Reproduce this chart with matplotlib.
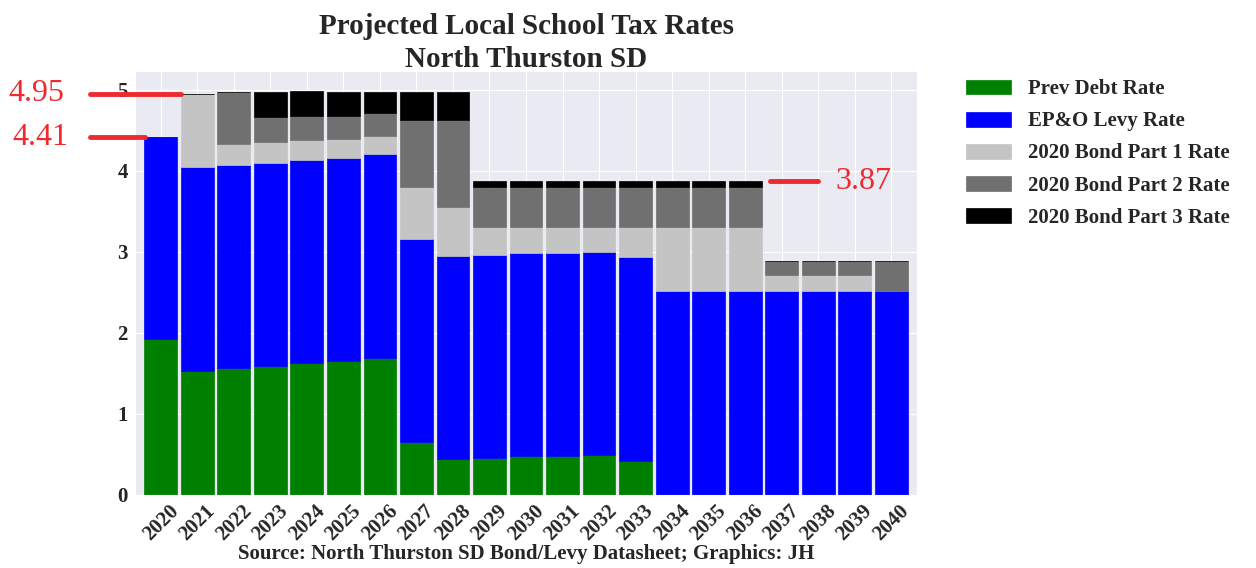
"""Projected local school tax rates, North Thurston SD (stacked bars)."""
import numpy as np
import matplotlib
matplotlib.use("Agg")
import matplotlib.pyplot as plt
import seaborn as sns

years = [str(y) for y in range(2020, 2041)]

# rate per $1000 assessed value
prev_debt = [1.92, 1.53, 1.56, 1.59, 1.62, 1.65, 1.69, 0.65, 0.44, 0.45, 0.47,
             0.48, 0.49, 0.41, 0, 0, 0, 0, 0, 0, 0]
epo_levy = [2.49, 2.51, 2.51, 2.50, 2.51, 2.50, 2.51, 2.51, 2.51, 2.51, 2.51,
            2.50, 2.50, 2.52, 2.51, 2.51, 2.51, 2.51, 2.51, 2.51, 2.51]
bond_p1 = [0, 0.91, 0.26, 0.26, 0.245, 0.24, 0.23, 0.635, 0.60, 0.34, 0.32,
           0.32, 0.31, 0.37, 0.79, 0.79, 0.79, 0.20, 0.20, 0.20, 0]
bond_p2 = [0, 0, 0.645, 0.31, 0.305, 0.29, 0.28, 0.835, 1.07, 0.50, 0.50,
           0.50, 0.50, 0.50, 0.50, 0.50, 0.50, 0.175, 0.175, 0.175, 0.375]
bond_p3 = [0, 0, 0, 0.31, 0.30, 0.29, 0.26, 0.34, 0.35, 0.07, 0.07,
           0.07, 0.07, 0.07, 0.07, 0.07, 0.07, 0, 0, 0, 0]

series = [
    ("Prev Debt Rate", prev_debt, "#008000"),
    ("EP&O Levy Rate", epo_levy, "#0000ff"),
    ("2020 Bond Part 1 Rate", bond_p1, "#c4c4c4"),
    ("2020 Bond Part 2 Rate", bond_p2, "#707070"),
    ("2020 Bond Part 3 Rate", bond_p3, "#000000"),
]

# (value shown, x start, x end, text x) for the red call-outs
callouts = [(4.95, -1.95, 0.55, -3.42), (4.41, -1.95, -0.44, -3.30),
            (3.87, 16.68, 18.0, 18.47)]

sns.set_style("darkgrid")
plt.rcParams["font.family"] = ["Liberation Serif", "DejaVu Serif"]
plt.rcParams["font.weight"] = "bold"

fig = plt.figure(figsize=(12.56, 5.68), dpi=100)
ax = fig.add_axes([0.1077, 0.1294, 0.6222, 0.7456])

x = np.arange(len(years))
bottom = np.zeros(len(years))
for label, vals, color in series:
    vals = np.array(vals, dtype=float)
    ax.bar(x, vals, width=0.9, bottom=bottom, color=color, label=label,
           edgecolor=color, linewidth=0.5)
    bottom += vals

ax.set_xlim(-0.7, len(years) - 0.3)
ax.set_ylim(0, 5.23)
ax.set_xticks(x)
ax.set_xticklabels(years, rotation=45, fontsize=15, fontweight="bold")
ax.set_yticks(range(6))
ax.set_yticklabels([str(v) for v in range(6)], fontsize=15, fontweight="bold")
ax.tick_params(axis="y", pad=2)
ax.tick_params(axis="x", pad=1)

ax.set_title("Projected Local School Tax Rates\nNorth Thurston SD",
             fontsize=21, fontweight="bold", color="#262626", linespacing=1.3,
             pad=3)
ax.set_xlabel("Source: North Thurston SD Bond/Levy Datasheet; Graphics: JH",
              fontsize=15, fontweight="bold", labelpad=0)

for val, x0, x1, tx in callouts:
    ax.plot([x0, x1], [val, val], color="#ee2a2e", lw=3.5,
            solid_capstyle="round", clip_on=False, zorder=5)
    ax.text(tx, val, f"{val:.2f}", color="#ee2a2e", fontsize=23,
            fontweight="normal", va="center", ha="left" if tx > 0 else "center",
            clip_on=False)

ax.legend(loc="upper left", bbox_to_anchor=(1.052, 1.0), borderaxespad=0,
          frameon=False, fontsize=15, handlelength=2.16, handleheight=0.72,
          handletextpad=0.82, labelspacing=0.58)

plt.savefig("out.png", dpi=100)
